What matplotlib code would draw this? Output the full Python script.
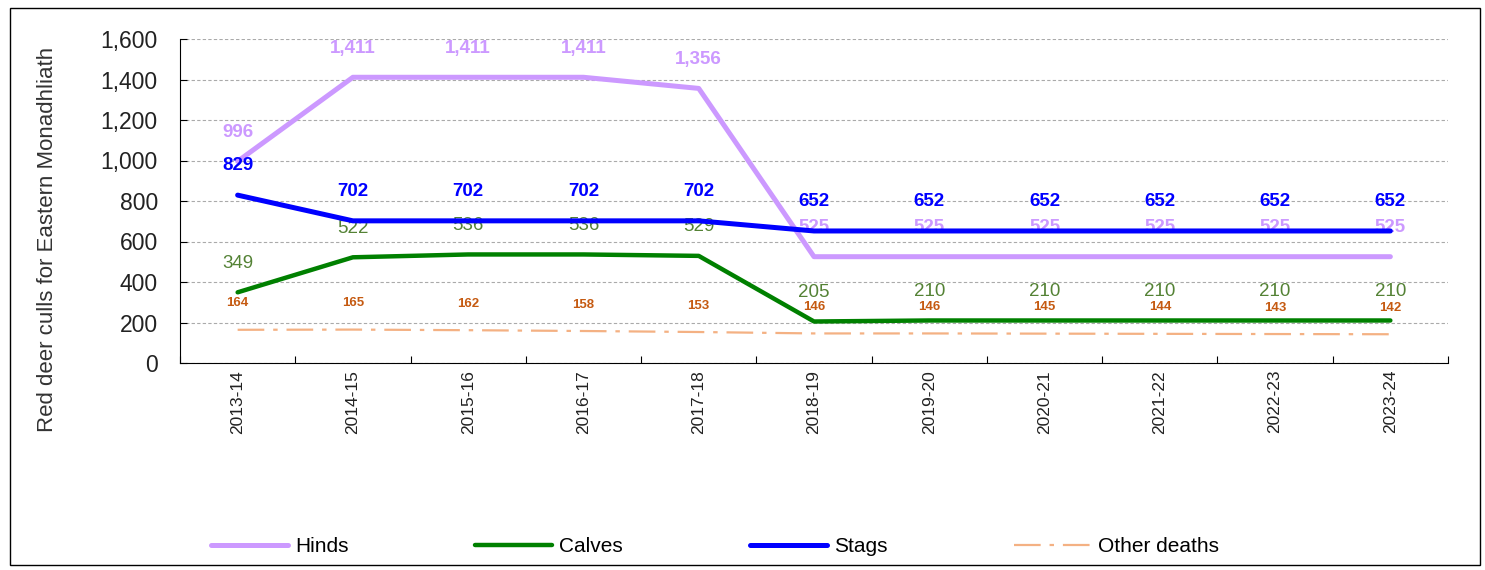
# Red deer culls for Eastern Monadhliath

import matplotlib.pyplot as plt
import matplotlib.patches as patches
import numpy as np

years = ["2013-14", "2014-15", "2015-16", "2016-17", "2017-18", "2018-19",
         "2019-20", "2020-21", "2021-22", "2022-23", "2023-24"]
hinds = [996, 1411, 1411, 1411, 1356, 525, 525, 525, 525, 525, 525]
calves = [349, 522, 536, 536, 529, 205, 210, 210, 210, 210, 210]
stags = [829, 702, 702, 702, 702, 652, 652, 652, 652, 652, 652]
other = [164, 165, 162, 158, 153, 146, 146, 145, 144, 143, 142]

narrow = ['Liberation Sans Narrow', 'Liberation Sans', 'DejaVu Sans']
plt.rcParams['font.family'] = ['Liberation Sans', 'DejaVu Sans']

fig = plt.figure(figsize=(14.85, 5.7), dpi=100)
ax = fig.add_axes([180/1485, 1-363/570, (1448-180)/1485, (363-39)/570])

x = np.arange(len(years))
ax.plot(x, hinds, color='#CC99FF', lw=3.6, label='Hinds', zorder=3, solid_capstyle='round')
ax.plot(x, calves, color='#008000', lw=3.2, label='Calves', zorder=3, solid_capstyle='round')
ax.plot(x, stags, color='#0000FF', lw=3.6, label='Stags', zorder=5, solid_capstyle='round')
ax.plot(x, other, color='#F4B183', lw=1.6, label='Other deaths', zorder=3,
        dashes=(12, 4, 2, 4))

def labels(vals, color, size, weight='bold', off=21):
    for xi, v in zip(x, vals):
        ax.annotate(f"{v:,}", (xi, v), xytext=(0, off), textcoords='offset points',
                    ha='center', va='center', color=color, fontsize=size,
                    fontweight=weight, family=narrow, zorder=4)

labels(hinds, '#CC99FF', 13.5)
labels(stags, '#0000FF', 13.5)
labels(calves, '#548235', 13.5, 'normal')
labels(other, '#C55A11', 9.5, off=19)

ax.set_ylim(0, 1600)
ax.set_xlim(-0.5, len(years) - 0.5)
ax.set_yticks(np.arange(0, 1601, 200))
ax.set_yticklabels([f"{v:,}" for v in range(0, 1601, 200)], fontsize=16.5, color='#222222')
ax.set_xticks(np.arange(-0.5, len(years), 1))
ax.set_xticklabels([])
ax.set_xticks(x, minor=True)
ax.set_xticklabels(years, minor=True, rotation=90, fontsize=12.5, color='#222222')
ax.tick_params(axis='x', which='major', direction='in', length=5)
ax.tick_params(axis='x', which='minor', length=0, pad=5)
ax.tick_params(axis='y', direction='in', length=5, pad=16)
ax.grid(axis='y', linestyle=(0, (3, 2)), color='#AAAAAA', lw=0.8)
ax.spines['top'].set_visible(False)
ax.spines['right'].set_visible(False)

ax.set_ylabel("Red deer culls for Eastern Monadhliath", fontsize=16, color='#333333')
ax.yaxis.set_label_coords(-0.096, 0.38)

fig.legend(loc='center left', ncol=4, mode='expand', frameon=False, fontsize=15,
           handlelength=3.7, handletextpad=0.35,
           bbox_to_anchor=(192/1485, 1-547/570, 1046/1485, 0.0))

fig.patches.append(patches.Rectangle((10/1485, 5/570), 1470/1485, 557/570,
                   transform=fig.transFigure, fill=False, edgecolor='black', lw=1))

plt.savefig('out.png', dpi=100)
